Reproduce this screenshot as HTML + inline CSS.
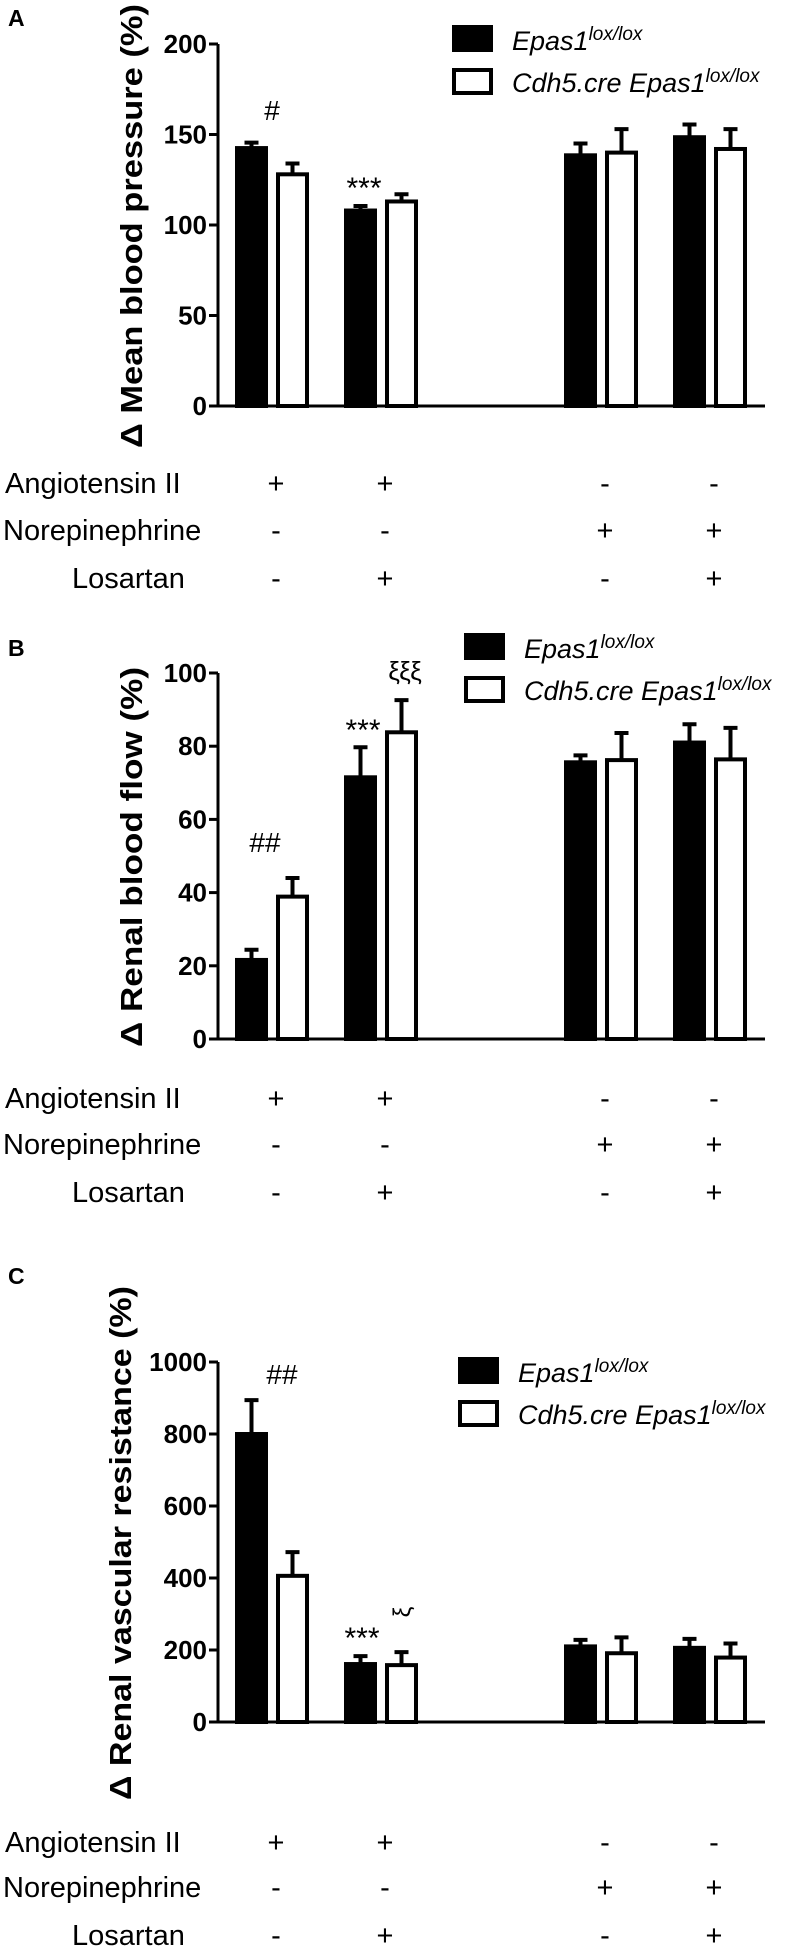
<!DOCTYPE html>
<html><head><meta charset="utf-8"><style>
html,body{margin:0;padding:0;background:#fff;}
svg{display:block;font-family:"Liberation Sans",Arial,sans-serif;}
</style></head><body>
<svg id="fig" width="789" height="1947" viewBox="0 0 789 1947" xmlns="http://www.w3.org/2000/svg"></svg>
<script>
// ---- data ----
const groups = ["AngII", "AngII+Losartan", "NE", "NE+Losartan"];
const angRow = ["+", "+", "-", "-"];
const neRow = ["-", "-", "+", "+"];
const losRow = ["-", "+", "-", "+"];
const rowLabels = ["Angiotensin II", "Norepinephrine", "Losartan"];
const seriesNames = ["Epas1", "Cdh5.cre Epas1"];

const mbpLox = [142.5, 108, 138.5, 148.5];
const mbpLoxErr = [3, 2.5, 6.5, 7];
const mbpCre = [128, 113, 140, 142];
const mbpCreErr = [6, 4, 13, 11];
const mbpTicks = [0, 50, 100, 150, 200];

const rbfLox = [21.6, 71.5, 75.6, 81];
const rbfLoxErr = [2.8, 8.2, 1.9, 5];
const rbfCre = [38.9, 83.8, 76.2, 76.4];
const rbfCreErr = [5.1, 8.8, 7.4, 8.6];
const rbfTicks = [0, 20, 40, 60, 80, 100];

const rvrLox = [800, 161, 210, 206];
const rvrLoxErr = [94, 22, 18, 25];
const rvrCre = [406, 158, 191, 179];
const rvrCreErr = [66, 36, 44, 39];
const rvrTicks = [0, 200, 400, 600, 800, 1000];

const NS = "http://www.w3.org/2000/svg";
const svg = document.getElementById("fig");
function mk(tag, attrs, parent) {
  const e = document.createElementNS(NS, tag);
  for (const k in attrs) e.setAttribute(k, attrs[k]);
  (parent || svg).appendChild(e);
  return e;
}
const centers = [272, 381, 601, 710];
const axisX = 218, axisEnd = 765, barW = 33, half = 20.5;

function panel(p) {
  const g = mk("g", {});
  
  
  const y = v => p.y0 - (v - p.min) / (p.max - p.min) * (p.y0 - p.yTop);
  // letter
  const L = mk("text", {x: 8, y: p.letterY, "font-size": 23, "font-weight": "bold"}, g);
  L.textContent = p.letter;
  
  
  // y title
  const t = mk("text", {transform: `translate(${p.titleX},${p.titleY}) rotate(-90)`, "text-anchor": "middle", "font-size": 31, "font-weight": "bold", textLength: p.titleLen, lengthAdjust: "spacingAndGlyphs"}, g);
  t.textContent = p.title;
  
  
  // bars
  const drawBar = (val, err, cx, filled, name) => {
    const top = y(val), et = y(val + err);
    const bar = mk("rect", {x: cx - barW / 2 + 2, y: top, width: barW - 4, height: p.y0 - top, fill: filled ? "#000" : "#fff", stroke: "#000", "stroke-width": 4}, g);
    
    
    const eb = mk("path", {d: `M${cx} ${top} V${et} M${cx - 7} ${et} H${cx + 7}`, stroke: "#000", "stroke-width": 4, fill: "none"}, g);
    
    
  };
  for (let i = 0; i < groups.length; i++) {
    drawBar(p.lox[i], p.loxErr[i], centers[i] - half, true, 'bar-lox-' + (i + 1));
    drawBar(p.cre[i], p.creErr[i], centers[i] + half, false, 'bar-cre-' + (i + 1));
  }
  // axes
  const ax = mk("path", {d: `M${axisX} ${p.yTop} V${p.y0} H${axisEnd}`, stroke: "#000", "stroke-width": 3, fill: "none"}, g);
  
  
  p.ticks.forEach(v => {
    mk("line", {x1: axisX - 9, x2: axisX, y1: y(v), y2: y(v), stroke: "#000", "stroke-width": 3}, g);
    const tl = mk("text", {x: axisX - 11, y: y(v) + 9, "text-anchor": "end", "font-size": 26, "font-weight": "bold"}, g);
    tl.textContent = v;
    
    
  });
  // annotations
  p.notes.forEach(n => {
    const a = mk("text", {x: n[1], y: n[2], "text-anchor": "middle", "font-size": n[3], transform: n[4] || ""}, g);
    a.textContent = n[0];
    
    
  });
  // legend
  const lg = mk("g", {}, g);
  
  
  mk("rect", {x: p.legX, y: p.legY, width: 41, height: 27, fill: "#000"}, lg);
  mk("rect", {x: p.legX + 2, y: p.legY + 45, width: 37, height: 23, fill: "#fff", stroke: "#000", "stroke-width": 4}, lg);
  [0, 1].forEach(k => {
    const tx = mk("text", {x: p.legX + 60, y: p.legY + 25 + k * 42, "font-size": 27, "font-style": "italic"}, lg);
    tx.textContent = seriesNames[k];
    const sp = mk("tspan", {"font-size": 19, dy: -10}, tx);
    sp.textContent = "lox/lox";
    
    
  });
  // condition rows
  const rows = [angRow, neRow, losRow];
  const lx = [5, 3, 72];
  rows.forEach((r, ri) => {
    const ry = p.rowY[ri];
    const lab = mk("text", {x: lx[ri], y: ry + 10, "font-size": 29}, g);
    lab.textContent = rowLabels[ri];
    
    
    r.forEach((s, i) => {
      const m = mk("text", {x: centers[i] + 4, y: ry + 10, "text-anchor": "middle", "font-size": 29}, g);
      m.textContent = s;
      
      
    });
  });
}

panel({key: "mean-blood-pressure", letter: "A", letterY: 26, title: "\u0394 Mean blood pressure (%)", titleX: 142, titleY: 226, titleLen: 444,
  min: 0, max: 200, y0: 406, yTop: 44, ticks: mbpTicks, lox: mbpLox, loxErr: mbpLoxErr, cre: mbpCre, creErr: mbpCreErr,
  notes: [["#", 272, 120, 28], ["***", 364, 198, 30]], legX: 452, legY: 25, rowY: [483, 530, 578]});
panel({key: "renal-blood-flow", letter: "B", letterY: 656, title: "\u0394 Renal blood flow (%)", titleX: 142, titleY: 857, titleLen: 380,
  min: 0, max: 100, y0: 1039, yTop: 673, ticks: rbfTicks, lox: rbfLox, loxErr: rbfLoxErr, cre: rbfCre, creErr: rbfCreErr,
  notes: [["##", 265, 852, 28], ["***", 363, 740, 30], ["\u03BE\u03BE\u03BE", 405, 680, 26]], legX: 464, legY: 633, rowY: [1098, 1144, 1192]});
panel({key: "renal-vascular-resistance", letter: "C", letterY: 1284, title: "\u0394 Renal vascular resistance (%)", titleX: 131, titleY: 1543, titleLen: 514,
  min: 0, max: 1000, y0: 1722, yTop: 1362, ticks: rvrTicks, lox: rvrLox, loxErr: rvrLoxErr, cre: rvrCre, creErr: rvrCreErr,
  notes: [["##", 282, 1384, 28], ["***", 362, 1648, 30], ["\u03BE", 0, 0, 24, "translate(410,1612) rotate(-90)"]], legX: 458, legY: 1357, rowY: [1842, 1887, 1935]});
</script>
</body></html>
